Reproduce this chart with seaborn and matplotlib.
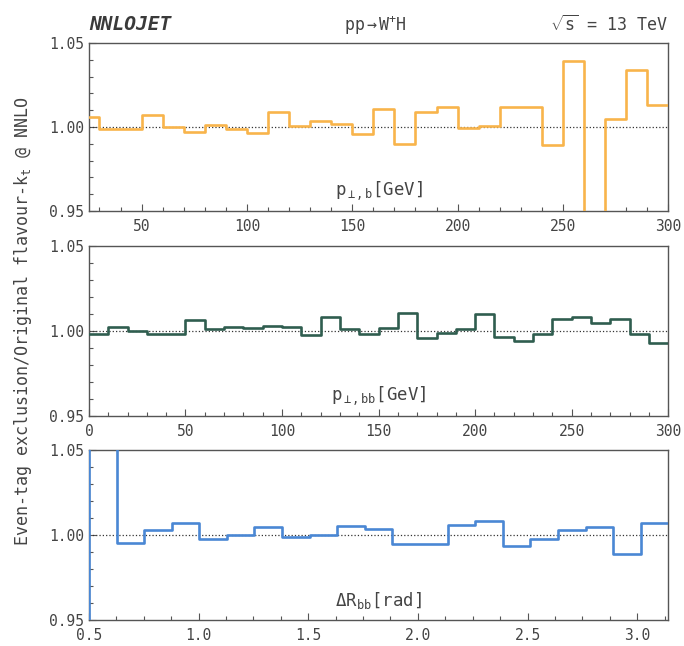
import numpy as np
import pandas as pd
import seaborn as sns
import matplotlib.pyplot as plt
from matplotlib.ticker import MultipleLocator

# p_T of the b-jet (bins 25-30, then 10 GeV wide up to 300)
ptb_edges = [25] + list(range(30, 301, 10))
ptb_ratio = [1.006, 0.999, 0.9989, 1.007, 1.000, 0.9973, 1.0012, 0.9989, 0.9967, 1.0092,
             1.0008, 1.0038, 1.0016, 0.996, 1.011, 0.990, 1.009, 1.012, 0.9992, 1.0004,
             1.012, 1.012, 0.989, 1.039, 0.90, 1.0046, 1.0337, 1.0129]

# p_T of the bb system
ptbb_edges = list(range(0, 301, 10))
ptbb_ratio = [0.9982, 1.0024, 1.000, 0.9982, 0.9982, 1.0065, 1.001, 1.0025, 1.002, 1.003,
              1.0024, 0.9976, 1.0082, 1.001, 0.9982, 1.0016, 1.0108, 0.9957, 0.9988, 1.0012,
              1.0098, 0.9967, 0.9941, 0.998, 1.007, 1.008, 1.0049, 1.0069, 0.998, 0.9927]

# Delta R_bb, 21 bins between 0.5 and pi
drbb_edges = list(np.linspace(0.5, np.pi, 22))
drbb_ratio = [1.20, 0.9953, 1.0031, 1.0071, 0.9974, 1.000, 1.0045, 0.9988, 1.000, 1.0051,
              1.0035, 0.9947, 0.9947, 1.0059, 1.0083, 0.9931, 0.9974, 1.0028, 1.0043, 0.9888,
              1.0069]

COLORS = ['#f8b44b', '#2f5d4f', '#4a87d4']
TXT = '#444444'

sns.set_theme(style='ticks')
plt.rcParams['font.family'] = ['DejaVu Sans Mono', 'DejaVu Sans']
plt.rcParams['mathtext.fontset'] = 'custom'
plt.rcParams['mathtext.rm'] = 'DejaVu Sans Mono'
plt.rcParams['mathtext.it'] = 'DejaVu Sans Mono'
plt.rcParams['text.color'] = TXT
plt.rcParams['axes.labelcolor'] = TXT
plt.rcParams['xtick.color'] = TXT
plt.rcParams['ytick.color'] = TXT

fig = plt.figure(figsize=(6.84, 6.46), dpi=100)
left, width = 0.130, 0.847
ax_top = fig.add_axes([left, 0.6734, width, 0.2600])
ax_mid = fig.add_axes([left, 0.3560, width, 0.2632])
ax_bot = fig.add_axes([left, 0.0410, width, 0.2624])

panels = [
    (ax_top, ptb_edges, ptb_ratio, COLORS[0], r'p$_{\perp,\mathrm{b}}$[GeV]', (25, 300), 50, 10, False),
    (ax_mid, ptbb_edges, ptbb_ratio, COLORS[1], r'p$_{\perp,\mathrm{bb}}$[GeV]', (0, 300), 50, 10, False),
    (ax_bot, drbb_edges, drbb_ratio, COLORS[2], r'$\Delta$R$_{\mathrm{bb}}$[rad]', (0.5, np.pi), 0.5, 0.125, True),
]

for ax, edges, ratio, col, xlab, xlim, major, minor, from_base in panels:
    x = list(edges)
    y = list(ratio) + [ratio[-1]]
    if from_base:
        # the first bin rises from the baseline
        x = [edges[0]] + x
        y = [0.0] + y
    df = pd.DataFrame({'x': x, 'ratio': y})
    sns.lineplot(data=df, x='x', y='ratio', drawstyle='steps-post', color=col,
                 linewidth=1.9, sort=False, estimator=None, ax=ax, zorder=3)
    ax.axhline(1.0, color='#333333', linestyle=':', linewidth=0.9, zorder=2)
    ax.set_xlim(*xlim)
    ax.set_ylim(0.95, 1.05)
    ax.set_yticks([0.95, 1.00, 1.05])
    ax.yaxis.set_minor_locator(MultipleLocator(0.01))
    ax.xaxis.set_major_locator(MultipleLocator(major))
    ax.xaxis.set_minor_locator(MultipleLocator(minor))
    ax.set_yticklabels(['0.95', '1.00', '1.05'])
    ax.tick_params(which='both', direction='in', labelsize=10.5, color='#555555')
    ax.tick_params(which='major', length=5, width=0.8)
    ax.tick_params(which='minor', length=3, width=0.8)
    ax.tick_params(axis='x', pad=6)
    for sp in ax.spines.values():
        sp.set_color('#555555')
        sp.set_linewidth(1.0)
    ax.set_ylabel('')
    ax.set_xlabel(xlab, fontsize=12.5, va='bottom')
    ax.xaxis.set_label_coords(0.5, 0.05)

ax_top.xaxis.set_major_formatter(plt.FuncFormatter(lambda v, p: f'{v:.0f}'))
ax_mid.xaxis.set_major_formatter(plt.FuncFormatter(lambda v, p: f'{v:.0f}'))
ax_bot.xaxis.set_major_formatter(plt.FuncFormatter(lambda v, p: f'{v:.1f}'))

fig.text(0.033, 0.503, r'Even-tag exclusion/Original flavour-k$_t$ @ NNLO',
         rotation=90, ha='center', va='center', fontsize=12)

fig.text(left, 0.962, 'NNLOJET', fontsize=14, fontweight='bold', fontstyle='italic',
         ha='left', va='center', color='#3a3a3a')
fig.text(0.548, 0.962, r'pp$\rightarrow$W$^{+}$H', fontsize=12, ha='center', va='center')
fig.text(left + width, 0.962, r'$\sqrt{\mathrm{s}}$ = 13 TeV', fontsize=12,
         ha='right', va='center')

fig.savefig('out.png', dpi=100)
